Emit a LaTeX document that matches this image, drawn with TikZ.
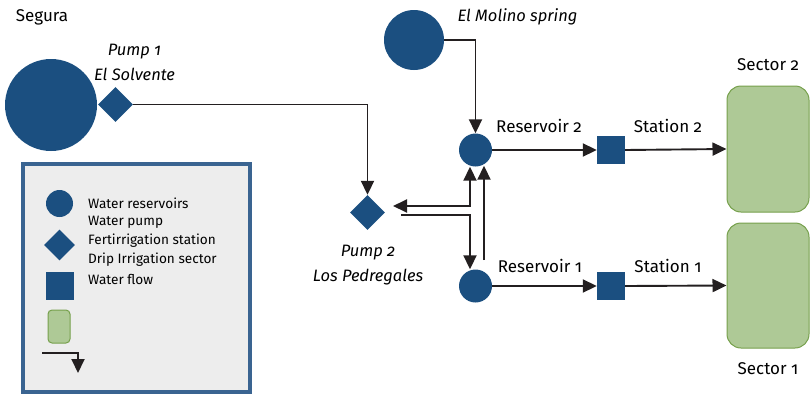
\documentclass[tikz,border=0pt]{standalone}
\usepackage{fontspec}
\setmainfont{Fira Sans}[Numbers=OldStyle]
\usetikzlibrary{shapes.geometric,arrows.meta}
\definecolor{dblue}{RGB}{27,79,128}
\definecolor{lblue}{RGB}{58,100,145}
\definecolor{gfill}{RGB}{174,201,150}
\definecolor{gline}{RGB}{118,160,76}
\definecolor{lgray}{RGB}{237,237,237}
\definecolor{ink}{RGB}{35,31,32}
\begin{document}
\begin{tikzpicture}[x=1pt,y=-1pt,
  res/.style={circle,fill=dblue,inner sep=0pt,minimum size=#1},
  pumpd/.style={diamond,aspect=1,fill=dblue,inner sep=0pt,minimum width=#1,minimum height=#1},
  stat/.style={rectangle,fill=dblue,inner sep=0pt,minimum size=#1},
  sect/.style={rectangle,rounded corners=#1,fill=gfill,draw=gline,line width=1pt},
  flow/.style={draw=ink,line width=1.9pt,-{Triangle[length=14pt,width=13pt]}},
  lab/.style={font=\fontsize{17}{20}\selectfont,inner sep=0pt},
  ilab/.style={font=\fontsize{16.5}{25}\selectfont\itshape,inner sep=0pt,align=center},
  leg/.style={font=\fontsize{13.6}{16}\selectfont,inner sep=0pt,anchor=west}]
\useasboundingbox (0,0) rectangle (810,394);
% legend box
\node[draw=lblue,fill=lgray,line width=4pt,minimum width=227pt,minimum height=228pt,inner sep=0pt] (legend) at (136.5,278) {};
% main nodes
\node[res=92pt] (segura) at (51,105) {};
\node[pumpd=35pt] (pump1) at (115.5,104.5) {};
\node[pumpd=35pt] (pump2) at (367.5,212.5) {};
\node[res=60pt] (molino) at (414,40) {};
\node[res=33pt] (res2) at (475.5,150) {};
\node[res=33pt] (res1) at (475.5,286) {};
\node[stat=28pt] (st2) at (611,150) {};
\node[stat=28pt] (st1) at (611,286) {};
\node[sect=14pt,minimum width=82pt,minimum height=126pt] (sec2) at (768,149) {};
\node[sect=14pt,minimum width=82pt,minimum height=125pt] (sec1) at (768,285.5) {};
% labels
\node[lab] (tseg) at (42,17) {Segura};
\node[ilab] (tp1) at (134.5,62.5) {Pump 1\\El Solvente};
\node[ilab] (tp2) at (368,265.5) {Pump 2\\Los Pedregales};
\node[ilab] (tmol) at (517.5,17) {El Molino spring};
\node[lab] (tr2) at (539,126) {Reservoir 2};
\node[lab] (ts2) at (668,126) {Station 2};
\node[lab] (tsec2) at (768,65) {Sector 2};
\node[lab] (tr1) at (540,266) {Reservoir 1};
\node[lab] (ts1) at (668,266) {Station 1};
\node[lab] (tsec1) at (768,369) {Sector 1};
% connectors
\draw[flow] (pump1.east) -| (pump2.north);
\draw[flow] (molino.east) -| (res2.north);
\coordinate (a1) at (393,206);
\coordinate (a2) at (401,215);
\coordinate (a3) at (484,260);
\draw[flow,{Triangle[length=14pt,width=13pt]}-{Triangle[length=14pt,width=13pt]}] (a1) -| ([xshift=-5.5pt]res2.south);
\draw[flow] (a2) -| ([xshift=-5.5pt]res1.north);
\draw[flow] (a3) -- ([xshift=8.5pt,yshift=1pt]res2.south);
\draw[flow] (res2.east) -- (st2.west);
\draw[flow] (st2.east) -- (sec2.west);
\draw[flow] (res1.east) -- (st1.west);
\draw[flow] (st1.east) -- (sec1.west);
% legend content
\node[res=27pt] (lres) at (59.5,203.5) {};
\node[pumpd=31pt] (lpump) at (59.5,245) {};
\node[stat=28pt] (lstat) at (60,286) {};
\node[sect=4pt,minimum width=22pt,minimum height=33pt] (lsec) at (59,326.5) {};
\coordinate (lf1) at (42,353);
\coordinate (lf2) at (78,373);
\draw[flow] (lf1) -| (lf2);
\node[leg] (l1) at (88,203) {Water reservoirs};
\node[leg] (l2) at (88,222) {Water pump};
\node[leg] (l3) at (88,241) {Fertirrigation station};
\node[leg] (l4) at (88,260) {Drip Irrigation sector};
\node[leg] (l5) at (88,279) {Water flow};
\end{tikzpicture}
\end{document}
